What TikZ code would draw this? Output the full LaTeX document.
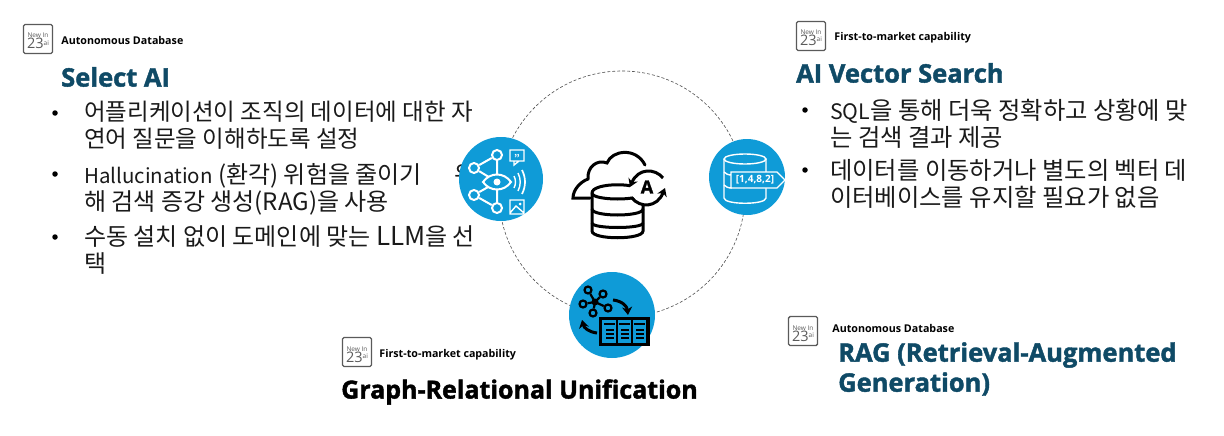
\documentclass[tikz,border=0pt]{standalone}
\usepackage{fontspec}
\setmainfont{Noto Sans CJK KR}
\newfontfamily\titlefont[BoldFeatures={FakeBold=1.6}]{Open Sans}
\newfontfamily\labelfont{Open Sans}
\usepackage{xcolor}
\usetikzlibrary{positioning,calc,arrows.meta}
\definecolor{iconblue}{HTML}{0F9BD7}
\definecolor{titleblue}{HTML}{0F4A66}
\definecolor{badgegray}{HTML}{5A5A5A}
\definecolor{bodyblack}{HTML}{1A1A1A}
\newcommand{\badgetext}{\fontsize{6.5}{7}\selectfont New In\\[-1pt]\fontsize{14.5}{13}\selectfont 23\raisebox{4pt}{\fontsize{6.5}{7}\selectfont ai}}
\newcommand{\lat}[2][21.3]{{\fontsize{#1}{27}\selectfont #2}}
\begin{document}
\begin{tikzpicture}[x=1pt,y=-1pt,node distance=6pt,
	badge/.style={draw=badgegray,line width=1.4pt,rounded corners=1.5pt,minimum size=29pt,text height=22pt,text depth=2pt,inner sep=0pt,align=center,text=badgegray,font=\labelfont},
	caption/.style={right=8pt of #1,font=\labelfont\bfseries\fontsize{10.7}{11}\selectfont,inner sep=0pt},
	headline/.style={anchor=west,inner sep=0pt,align=left,text=titleblue,font=\titlefont\bfseries\fontsize{25.5}{30}\selectfont},
	item/.style={anchor=north west,inner sep=0pt,align=left,text=bodyblack,font=\fontsize{24}{27}\selectfont},
	dot/.style={circle,fill=black,inner sep=0pt,minimum size=5.5pt},
	bubble/.style={circle,fill=iconblue,inner sep=0pt},
	knob/.style={circle,draw=white,line width=2pt,fill=iconblue,inner sep=0pt,minimum size=10pt},
	thin white/.style={draw=white,line width=1.4pt},
	thick black/.style={draw=black,line width=3pt},
	flow/.style={draw=black,line width=3pt,-{Stealth[length=8pt,width=10pt]}}]
	\useasboundingbox (0,0) rectangle (1224,436);
	% left column
	\node[badge] (badge_1) at (38,39) {\badgetext};
	\node[caption=badge_1,yshift=-1pt] (cap_1) {Autonomous Database};
	\node[headline] (title_1) at (61,77) {Select AI};
	\node[item,font=\fontsize{23.5}{27}\selectfont] (item_1) at (84,101) {어플리케이션이 조직의 데이터에 대한 자\\연어 질문을 이해하도록 설정};
	\node[item] (item_2) at (84,163) {\lat[20.5]{Hallucination} (환각) 위험을 줄이기\\해 검색 증강 생성\lat[24]{(RAG)}을 사용};
	\node[item] (item_2b) at (454,163) {위};
	\node[item] (item_3) at (84,225) {수동 설치 없이 도메인에 맞는 \lat[26]{LLM}을 선\\택};
	\node[dot] (dot_1) at (55,113) {};
	\node[dot] (dot_2) at (55,174) {};
	\node[dot] (dot_3) at (55,237) {};
	% right column
	\node[badge] (badge_2) at (811,36) {\badgetext};
	\node[caption=badge_2,yshift=-2pt] (cap_2) {First-to-market capability};
	\node[headline] (title_2) at (796,73) {AI Vector Search};
	\node[item,font=\fontsize{24.3}{27}\selectfont] (item_4) at (830,99) {\lat{SQL}을 통해 더욱 정확하고 상황에 맞\\는 검색 결과 제공};
	\node[item,font=\fontsize{24.3}{27}\selectfont] (item_5) at (830,159) {데이터를 이동하거나 별도의 벡터 데\\이터베이스를 유지할 필요가 없음};
	\node[dot] (dot_4) at (805,110) {};
	\node[dot] (dot_5) at (805,170) {};
	% lower captions
	\node[badge] (badge_3) at (357,352) {\badgetext};
	\node[caption=badge_3,xshift=-1pt,yshift=-3pt] (cap_3) {First-to-market capability};
	\node[headline,text=black,font=\titlefont\bfseries\fontsize{25}{30}\selectfont] (title_3) at (341,392) {Graph-Relational Unification};
	\node[badge] (badge_4) at (803,331) {\badgetext};
	\node[caption=badge_4,xshift=6pt,yshift=3pt] (cap_4) {Autonomous Database};
	\node[headline] (title_4) at (838,369) {RAG (Retrieval-Augmented\\Generation)};
	% ring and its three discs
	\node[circle,draw=black!70,densely dashed,line width=0.6pt,minimum size=246pt,inner sep=0pt] (ring) at (622,194) {};
	\node[bubble,minimum size=84pt] (select_ai) at (501,179) {};
	\node[bubble,minimum size=76pt] (vector) at (747,177) {};
	\node[bubble,minimum size=86pt] (graph) at (612,315) {};
	% eye icon
	\node[knob] (k_1) at (497,155) {};
	\node[knob] (k_2) at (474,168) {};
	\node[knob] (k_3) at (474,195) {};
	\node[knob] (k_4) at (497,208) {};
	\coordinate (eye) at (497,182);
	\draw[thin white,line width=2pt] (k_1) -- (k_2) (k_3) -- (k_4) (k_1) -- (eye) -- (k_4) (k_2) -- (eye) -- (k_3);
	\draw[thin white,line width=2pt,fill=iconblue] (483,182) .. controls (490,172) and (504,172) .. (511,182) .. controls (504,192) and (490,192) .. (483,182) -- cycle;
	\fill[white] (eye) circle (3.5pt);
	\draw[thin white] (510,150) rectangle (524,161) (514,161) -- (514,165) -- (519,161);
	\node[text=white,inner sep=0pt,font=\bfseries\fontsize{9}{9}\selectfont] (quote) at (517,158) {"};
	\draw[thin white] (514,176) .. controls (516,180) and (516,184) .. (514,188);
	\draw[thin white] (518,173) .. controls (521,179) and (521,185) .. (518,191);
	\draw[thin white,line width=1.7pt] (522,170) .. controls (526,178) and (526,186) .. (522,194);
	\draw[thin white] (510,200) rectangle (524,214) (510,213) -- (516,206) -- (524,213);
	\fill[white] (520,204) circle (1.5pt);
	% vector database icon
	\draw[thin white] (724,159) -- (724,198) .. controls (724,205) and (766,205) .. (766,198) -- (766,159);
	\draw[thin white] (745,159) ellipse (21pt and 5pt);
	\draw[thin white] (724,172) .. controls (726,174) and (728,175) .. (732,175);
	\draw[thin white] (724,185) .. controls (726,187) and (728,188) .. (732,188);
	\draw[thin white,fill=iconblue] (731,172) -- (777,172) -- (785,180) -- (777,188) -- (731,188) -- cycle;
	\node[text=white,inner sep=0pt,font=\labelfont\bfseries\fontsize{10}{10}\selectfont] (vec_label) at (755,180) {[1,4,8,2]};
	% graph and table icon
	\coordinate (hub) at (595,302);
	\foreach \px/\py/\pname in {588/290/a,603/294/b,608/308/c,593/313/d,583/304/e} {
		\node[circle,draw=black,line width=2.2pt,fill=iconblue,inner sep=0pt,minimum size=7pt] (g_\pname) at (\px,\py) {};
		\draw[draw=black,line width=2.2pt] (hub) -- (g_\pname);
	}
	\fill (hub) circle (3.5pt);
	\draw[flow] (613,300) .. controls (622,301) and (627,306) .. (628,315);
	\draw[flow] (597,333) .. controls (589,332) and (584,328) .. (582,320);
	\draw[thick black,fill=iconblue] (600,318) rectangle (648,344);
	\foreach \cx in {604,619,634} {
		\fill[black] (\cx,323) rectangle +(11,1.5);
		\foreach \ry in {329,333,337} { \fill[black] (\cx+2,\ry) rectangle +(8,2); }
		\draw[black,line width=1.5pt] (\cx+13,318) -- (\cx+13,344);
	}
	% central cloud and database icon
	\draw[thick black,line cap=round] (590,198) -- (573,198) .. controls (573,190) and (580,182) .. (588,179) .. controls (587,167) and (597,159) .. (607,163) .. controls (612,150) and (636,147) .. (645,165);
	\draw[thick black,fill=white] (592,193) -- (592,231) .. controls (592,240) and (643,240) .. (643,231) -- (643,193) .. controls (643,182) and (592,182) .. (592,193) -- cycle;
	\draw[thick black] (592,193) .. controls (592,201) and (643,201) .. (643,193);
	\draw[thick black] (592,209) .. controls (592,217) and (643,217) .. (643,209);
	\draw[thick black] (592,223) .. controls (592,229) and (643,229) .. (643,223);
	\node[circle,fill=white,minimum size=34pt,inner sep=0pt] (a_disc) at (647,187) {};
	\node[inner sep=0pt,font=\titlefont\bfseries\fontsize{18}{18}\selectfont] (a_mark) at (647,187) {A};
	\draw[flow] (663,178) .. controls (655,168) and (638,168) .. (630,187);
	\draw[flow] (632,198) .. controls (640,208) and (657,208) .. (665,188);
\end{tikzpicture}
\end{document}
